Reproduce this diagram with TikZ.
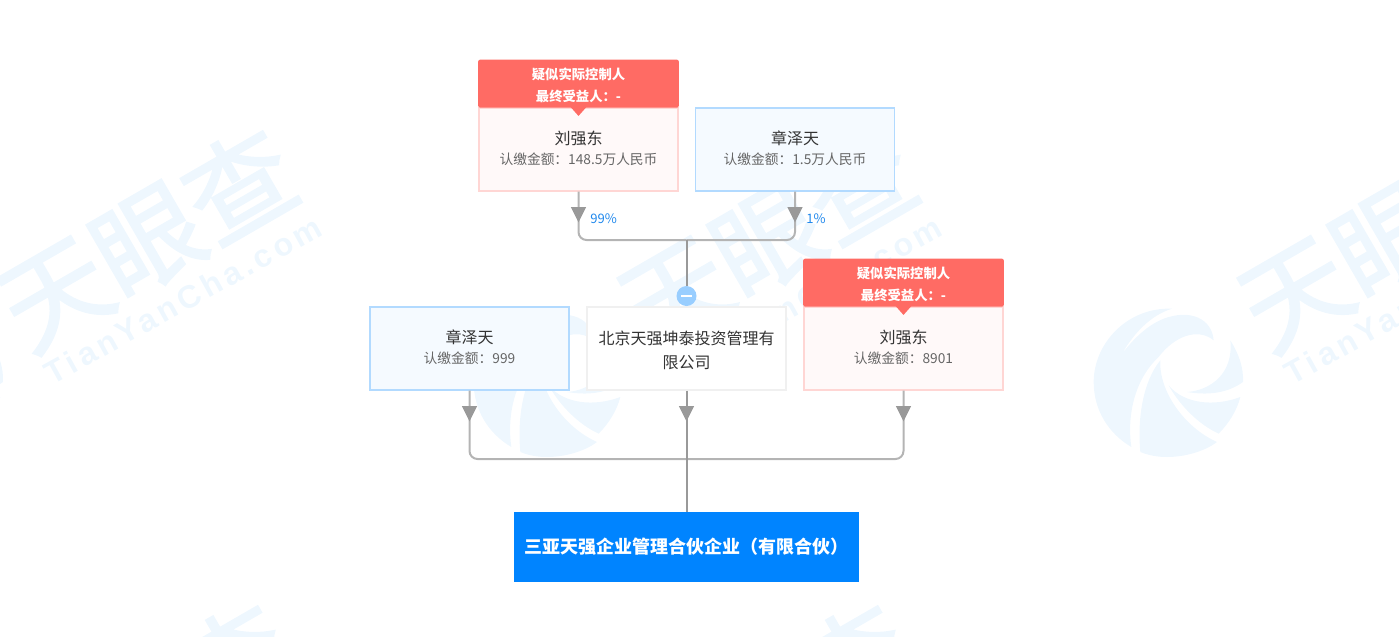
\documentclass[tikz,border=0pt]{standalone}
\usepackage{fontspec}
\setmainfont{Noto Sans CJK SC}
\newfontfamily\wmlatin[LetterSpace=13]{Liberation Sans}
\newfontfamily\wmheavy[FakeBold=2]{Noto Sans CJK SC}
\usetikzlibrary{positioning, arrows.meta, decorations.markings}
\definecolor{wmblue}{HTML}{EEF7FE}
\definecolor{ctrlred}{HTML}{FF6B64}
\definecolor{linegray}{HTML}{B4B4B4}
\definecolor{tipgray}{HTML}{999999}
\definecolor{pctblue}{HTML}{2088EC}
\definecolor{firmblue}{HTML}{0084FF}
\newcommand{\namesub}[2]{{\fontsize{12pt}{15pt}\selectfont\color[HTML]{333333}#1}\\[2.9pt]{\fontsize{10.3pt}{12pt}\selectfont\color[HTML]{666666}#2\rule[-3pt]{0pt}{4pt}}}
\newcommand{\ctrltext}{\rule{0pt}{11pt}疑似实际控制人\\[5pt]最终受益人：-}
\tikzstyle{redperson} = [rectangle, minimum width=149.25pt, minimum height=62.25pt, inner sep=0pt, align=center, line width=1.1pt, draw=ctrlred!28, fill=ctrlred!4]
\tikzstyle{blueperson} = [rectangle, minimum width=149.25pt, minimum height=62.25pt, inner sep=0pt, align=center, line width=1.1pt, draw=firmblue!30, fill=firmblue!4]
\tikzstyle{company} = [rectangle, minimum width=149.25pt, minimum height=62.25pt, inner sep=0pt, align=center, line width=1.1pt, draw=black!6, fill=white, text=black!80, font=\fontsize{12pt}{17pt}\selectfont, text width=135pt]
\tikzstyle{ctrlhead} = [rectangle, rounded corners=1.5pt, minimum width=150.5pt, minimum height=36pt, inner sep=0pt, align=center, fill=ctrlred, text=white, font=\fontsize{10pt}{12pt}\selectfont\bfseries]
\tikzstyle{firm} = [rectangle, minimum width=259pt, minimum height=52pt, inner sep=0pt, fill=firmblue, text=white, font=\fontsize{13.5pt}{16pt}\selectfont\bfseries]
\tikzstyle{foldbtn} = [circle, minimum size=15pt, inner sep=0pt, fill=firmblue!40]
\tikzstyle{pct} = [inner sep=0pt, text=pctblue, font=\fontsize{9.8pt}{12pt}\selectfont]
\tikzstyle{link} = [line width=1.5pt, draw=linegray, rounded corners=6pt]
\tikzstyle{stem} = [line width=1.5pt, draw=tipgray]
\tikzstyle{arrow} = [postaction={decorate}, decoration={markings, mark=at position 23pt with {\arrow[tipgray]{Triangle[width=11pt, length=11.5pt]}}}]
\tikzstyle{wmcjk} = [inner sep=0pt, text=wmblue, rotate=30, font=\fontsize{80pt}{80pt}\selectfont\wmheavy]
\tikzstyle{wmurl} = [inner sep=0pt, text=wmblue, rotate=29, font=\fontsize{24pt}{24pt}\selectfont\wmlatin\bfseries]
\tikzset{wmlogo/.pic={
\begin{scope}[x=0.25pt, y=-0.25pt, shift={(-350,-575)}]
\fill[wmblue] (490,450) .. controls (485,385) and (420,355) .. (340,385) .. controls (290,405) and (250,445) .. (215,490) .. controls (250,430) and (300,375) .. (365,355) .. controls (230,350) and (130,460) .. (130,575) .. controls (130,660) and (175,730) .. (243,770) .. controls (230,680) and (250,570) .. (325,500) .. controls (370,440) and (440,410) .. (490,450) -- cycle;
\fill[wmblue] (330,510) .. controls (325,600) and (400,710) .. (500,755) .. controls (460,785) and (400,800) .. (350,800) .. controls (320,800) and (295,795) .. (270,785) .. controls (260,680) and (280,570) .. (330,510) -- cycle;
\fill[wmblue] (355,585) .. controls (400,640) and (490,650) .. (570,620) .. controls (560,660) and (535,700) .. (505,730) .. controls (440,700) and (385,640) .. (355,585) -- cycle;
\fill[wmblue] (540,450) .. controls (565,490) and (580,530) .. (578,575) .. controls (530,610) and (470,615) .. (410,605) .. controls (480,600) and (550,550) .. (540,450) -- cycle;
\end{scope}
}}

\begin{document}
\begin{tikzpicture}[x=0.75pt, y=-0.75pt]
\useasboundingbox (0,0) rectangle (1399,636);
\clip (0,0) rectangle (1399,636);

% watermark
\foreach \wx in {0,620,1240} {
\node (wmname\wx) [wmcjk] at (\wx+147,239) {天眼查};
\node (wmurl\wx) [wmurl] at (\wx+183,300) {TianYanCha.com};
\pic at (\wx-73,382) {wmlogo};
\node (wmlow\wx) [wmcjk] at (\wx+142,714) {天眼查};
}

\node (owner1) [redperson] at (578.5,149.5) {\namesub{刘强东}{认缴金额：148.5万人民币}};
\node (head1) [ctrlhead, above=-0.5pt of owner1] {\ctrltext};
\fill [ctrlred] (head1.south) ++(-8,-1) -- ++(16,0) -- ++(-8,9) -- cycle;
\node (owner2) [blueperson] at (795,149.5) {\namesub{章泽天}{认缴金额：1.5万人民币}};
\node (holder1) [blueperson] at (469.5,348.5) {\namesub{章泽天}{认缴金额：999}};
\node (fund) [company] at (686.5,348.5) {\rule{0pt}{13pt}北京天强坤泰投资管理有\\[1pt]限公司};
\node (holder3) [redperson] at (903.5,348.5) {\namesub{刘强东}{认缴金额：8901}};
\node (head3) [ctrlhead, above=-0.5pt of holder3] {\ctrltext};
\fill [ctrlred] (head3.south) ++(-8,-1) -- ++(16,0) -- ++(-8,9) -- cycle;
\node (firm) [firm] at (686.5,547) {三亚天强企业管理合伙企业（有限合伙）};

\coordinate (bustop) at (686.5,240);
\coordinate (buslow) at (686.5,459);
\node (fold) [foldbtn] at (686.5,296) {};
\node (foldbar) [rectangle, minimum width=8pt, minimum height=1.4pt, inner sep=0pt, fill=white] at (fold) {};

\draw [link, arrow] (owner1.south) |- (bustop);
\draw [link, arrow] (owner2.south) |- (bustop);
\draw [stem] (bustop) -- (fold.north);
\draw [link, arrow] (holder1.south) |- (buslow);
\draw [link, arrow] (holder3.south) |- (buslow);
\draw [stem, arrow] (fund.south) -- (firm.north);

\node (pct1) [pct, anchor=west] at (590,219) {99\%};
\node (pct2) [pct, anchor=west] at (806,219) {1\%};

\end{tikzpicture}
\end{document}
